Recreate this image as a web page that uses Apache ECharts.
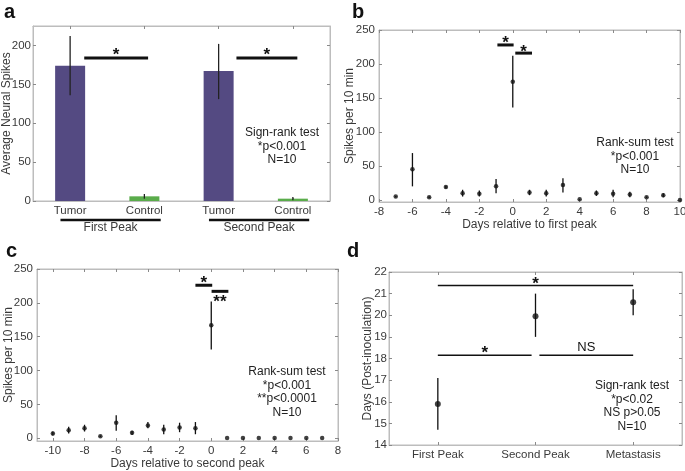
<!DOCTYPE html>
<html><head><meta charset="utf-8">
<script src="https://cdn.jsdelivr.net/npm/echarts@6/dist/echarts.min.js"></script>
<style>html,body{margin:0;padding:0;background:#fff}#c{width:685px;height:471px}</style>
</head><body><div id="c"></div>
<script>
// ---------- DATA ----------
// Panel a
const aCategories = ['Tumor', 'Control', 'Tumor', 'Control'];
const aPositions = [1, 2, 3, 4];
const aMeans = [174, 6, 167, 3];
const aLow = [136, 3, 131, 1];
const aHigh = [212, 9, 202, 5];
const aGroups = ['First Peak', 'Second Peak'];
const aGroupSpans = [[1, 2], [3, 4]];
const aYTicks = [0, 50, 100, 150, 200];
const aSig = [[1.19, 2.05, 184, 193, '*'], [3.24, 4.06, 184, 193, '*']];
const aNote = 'Sign-rank test\n*p<0.001\nN=10';

// Panel b
const bDays = [-7, -6, -5, -4, -3, -2, -1, 0, 1, 2, 3, 4, 5, 6, 7, 8, 9, 10];
const bMeans = [5, 45, 4, 19, 10, 9, 20, 174, 11, 10, 22, 1, 10, 9, 8, 4, 7, 0];
const bLow = [4, 20, 3, 17, 5, 5, 10, 136, 7, 5, 11, 0.5, 6, 4, 4, 3, 4, 0];
const bHigh = [6, 69, 5, 21, 15, 14, 31, 212, 15, 15, 32, 1.5, 14, 15, 12, 5, 10, 0];
const bXTicks = [-8, -6, -4, -2, 0, 2, 4, 6, 8, 10];
const bYTicks = [0, 50, 100, 150, 200, 250];
const bSig = [[-0.92, 0.05, 228, 236, '*'], [0.15, 1.15, 216, 224, '*']];
const bNote = 'Rank-sum test\n*p<0.001\nN=10';

// Panel c
const cDays = [-10, -9, -8, -7, -6, -5, -4, -3, -2, -1, 0, 1, 2, 3, 4, 5, 6, 7];
const cMeans = [7, 12, 15, 3, 23, 8, 19, 13, 16, 15, 167, 0.5, 0.5, 0.5, 0.5, 0.5, 0.5, 0.5];
const cLow = [4, 7, 10, 2, 11, 5, 15, 6, 9, 6, 131, 0.5, 0.5, 0.5, 0.5, 0.5, 0.5, 0.5];
const cHigh = [10, 17, 20, 4, 34, 11, 24, 20, 23, 24, 202, 0.5, 0.5, 0.5, 0.5, 0.5, 0.5, 0.5];
const cXTicks = [-10, -8, -6, -4, -2, 0, 2, 4, 6, 8];
const cYTicks = [0, 50, 100, 150, 200, 250];
const cSig = [[-1.0, 0.06, 226, 235, '*'], [0.02, 1.08, 217, 207, '**']];
const cNote = 'Rank-sum test\n*p<0.001\n**p<0.0001\nN=10';

// Panel d
const dCategories = ['First Peak', 'Second Peak', 'Metastasis'];
const dPositions = [1, 2, 3];
const dMeans = [15.9, 19.95, 20.6];
const dLow = [14.7, 19.0, 20.0];
const dHigh = [17.1, 21.0, 21.2];
const dYTicks = [14, 15, 16, 17, 18, 19, 20, 21, 22];
const dSig = [[1.0, 3.0, 21.38, 21.62, '*'], [1.0, 1.96, 18.15, 18.42, '*'], [2.04, 3.0, 18.15, 18.5, 'NS']];
const dNote = 'Sign-rank test\n*p<0.02\nNS p>0.05\nN=10';

// ---------- STYLE ----------
const FONT = '"Liberation Sans", Arial, sans-serif';
const FRAME = '#bdbdbd';
const TXT = '#3a3a3a';
const PURPLE = '#544a82';
const GREEN = '#5aac4b';

const grids = [
  { left: 33, top: 26, width: 297, height: 175 },
  { left: 379, top: 30, width: 301, height: 172 },
  { left: 37, top: 269, width: 301, height: 172 },
  { left: 389, top: 272, width: 293, height: 173 }
];

function baseAxis(g, min, max, ticks, pos) {
  return {
    type: 'value', gridIndex: g, min, max, position: pos,
    axisLine: { show: true, onZero: false, lineStyle: { color: FRAME, width: 1 } },
    axisTick: { show: true, inside: true, length: 3, customValues: ticks, lineStyle: { color: '#8a8a8a' } },
    axisLabel: { show: false }, splitLine: { show: false }
  };
}
function xPair(g, min, max, ticks, fmt, extra) {
  const bottom = Object.assign(baseAxis(g, min, max, ticks, 'bottom'), {
    axisLabel: { customValues: ticks, color: TXT, fontSize: 11.5, fontFamily: FONT, margin: 4, formatter: fmt }
  }, extra || {});
  return [bottom, baseAxis(g, min, max, ticks, 'top')];
}
function yPair(g, min, max, ticks, margin, extra) {
  const left = Object.assign(baseAxis(g, min, max, ticks, 'left'), {
    axisLabel: { customValues: ticks, color: TXT, fontSize: 11.5, fontFamily: FONT, margin },
    nameLocation: 'middle', nameRotate: 90, nameMoveOverlap: false,
    nameTextStyle: { color: TXT, fontSize: 12, fontFamily: FONT }
  }, extra || {});
  return [left, baseAxis(g, min, max, ticks, 'right')];
}
const xName = (t) => ({ name: t, nameLocation: 'middle', nameGap: 17, nameMoveOverlap: false,
  nameTextStyle: { color: TXT, fontSize: 12, fontFamily: FONT } });

const xAxes = [
  ...xPair(0, 0.5, 4.5, aPositions, v => aCategories[aPositions.indexOf(v)] || ''),
  ...xPair(1, -8, 10, bXTicks, null, xName('Days relative to first peak')),
  ...xPair(2, -11, 8, cXTicks, null, xName('Days relative to second peak')),
  ...xPair(3, 0.5, 3.5, dPositions, v => dCategories[dPositions.indexOf(v)] || '')
];
const yAxes = [
  ...yPair(0, 0, 225, aYTicks, 2, { name: 'Average Neural Spikes', nameGap: 20 }),
  ...yPair(1, -3, 250, bYTicks, 4, { name: 'Spikes per 10 min', nameGap: 23 }),
  ...yPair(2, -4, 250, cYTicks, 4, { name: 'Spikes per 10 min', nameGap: 22 }),
  ...yPair(3, 14, 22, dYTicks, 2, { name: 'Days (Post-inoculation)', nameGap: 15 })
];

function errSeries(g, xs, lo, hi, color) {
  return {
    type: 'custom', xAxisIndex: 2 * g, yAxisIndex: 2 * g, z: 5,
    data: xs.map((x, i) => [x, lo[i], hi[i]]),
    renderItem: (params, api) => {
      const p1 = api.coord([api.value(0), api.value(1)]);
      const p2 = api.coord([api.value(0), api.value(2)]);
      return { type: 'line', shape: { x1: p1[0], y1: p1[1], x2: p2[0], y2: p2[1] },
        style: { stroke: color, lineWidth: 1.3 } };
    }
  };
}
function sigSeries(g, sig, lineWidth, fontSize) {
  return {
    type: 'custom', xAxisIndex: 2 * g, yAxisIndex: 2 * g, z: 6, clip: false,
    data: sig.map(s => [s[0], s[1], s[2], s[3]]),
    renderItem: (params, api) => {
      const s = sig[params.dataIndex];
      const a = api.coord([s[0], s[2]]);
      const b = api.coord([s[1], s[2]]);
      const t = api.coord([(s[0] + s[1]) / 2, s[3]]);
      const isStar = s[4].indexOf('*') >= 0;
      return { type: 'group', children: [
        { type: 'line', shape: { x1: a[0], y1: a[1], x2: b[0], y2: b[1] }, style: { stroke: '#111', lineWidth } },
        { type: 'text', x: t[0], y: t[1] + (isStar ? fontSize * 0.25 : 0), style: { text: s[4], fill: '#111',
          font: (isStar ? 'bold ' + fontSize : 13) + 'px ' + FONT, align: 'center', verticalAlign: 'middle' } }
      ] };
    }
  };
}

const series = [
  // Panel a
  { type: 'bar', xAxisIndex: 0, yAxisIndex: 0, barWidth: 30, z: 3,
    data: aPositions.map((x, i) => ({ value: [x, aMeans[i]], itemStyle: { color: i % 2 === 0 ? PURPLE : GREEN } })) },
  errSeries(0, aPositions, aLow, aHigh, '#222'),
  sigSeries(0, aSig, 3, 17),
  { type: 'custom', xAxisIndex: 0, yAxisIndex: 0, clip: false, z: 6,
    data: aGroupSpans.map(s => [s[0], s[1]]),
    renderItem: (params, api) => {
      const a = api.coord([api.value(0) - 0.13, 0]);
      const b = api.coord([api.value(1) + 0.22, 0]);
      const y = a[1] + 19;
      return { type: 'group', children: [
        { type: 'line', shape: { x1: a[0], y1: y, x2: b[0], y2: y }, style: { stroke: '#111', lineWidth: 2.5 } },
        { type: 'text', x: (a[0] + b[0]) / 2, y: y + 8, style: { text: aGroups[params.dataIndex], fill: TXT,
          font: '12px ' + FONT, align: 'center', verticalAlign: 'middle' } }
      ] };
    } },
  // Panel b
  errSeries(1, bDays, bLow, bHigh, '#111'),
  { type: 'scatter', xAxisIndex: 2, yAxisIndex: 2, symbolSize: 4.5, z: 6, itemStyle: { color: '#111' },
    data: bDays.map((d, i) => [d, bMeans[i]]) },
  sigSeries(1, bSig, 3, 17),
  // Panel c
  errSeries(2, cDays, cLow, cHigh, '#111'),
  { type: 'scatter', xAxisIndex: 4, yAxisIndex: 4, symbolSize: 4.5, z: 6, itemStyle: { color: '#111' },
    data: cDays.map((d, i) => [d, cMeans[i]]) },
  sigSeries(2, cSig, 3, 17),
  // Panel d
  errSeries(3, dPositions, dLow, dHigh, '#111'),
  { type: 'scatter', xAxisIndex: 6, yAxisIndex: 6, symbolSize: 6, z: 6, itemStyle: { color: '#111' },
    data: dPositions.map((d, i) => [d, dMeans[i]]) },
  sigSeries(3, dSig, 1.5, 17)
];

function note(text, cx, top) {
  return { type: 'text', x: cx, y: top, style: { text, fill: '#222', font: '12px ' + FONT,
    align: 'center', verticalAlign: 'top', lineHeight: 13.5 } };
}
function letter(t, x, y) {
  return { type: 'text', x, y, style: { text: t, fill: '#111', font: 'bold 20px ' + FONT } };
}

const chart = echarts.init(document.getElementById('c'), null, { renderer: 'canvas' });
chart.setOption({
  animation: false,
  backgroundColor: '#fff',
  grid: grids.map(g => Object.assign({ show: true, borderColor: FRAME, borderWidth: 1, containLabel: false, outerBoundsMode: 'none' }, g)),
  xAxis: xAxes,
  yAxis: yAxes,
  series,
  graphic: [
    letter('a', 4, 2), letter('b', 352, 2), letter('c', 6, 241), letter('d', 347, 241),
    note(aNote, 282, 126), note(bNote, 635, 136), note(cNote, 287, 365), note(dNote, 632, 379)
  ]
});
</script></body></html>
